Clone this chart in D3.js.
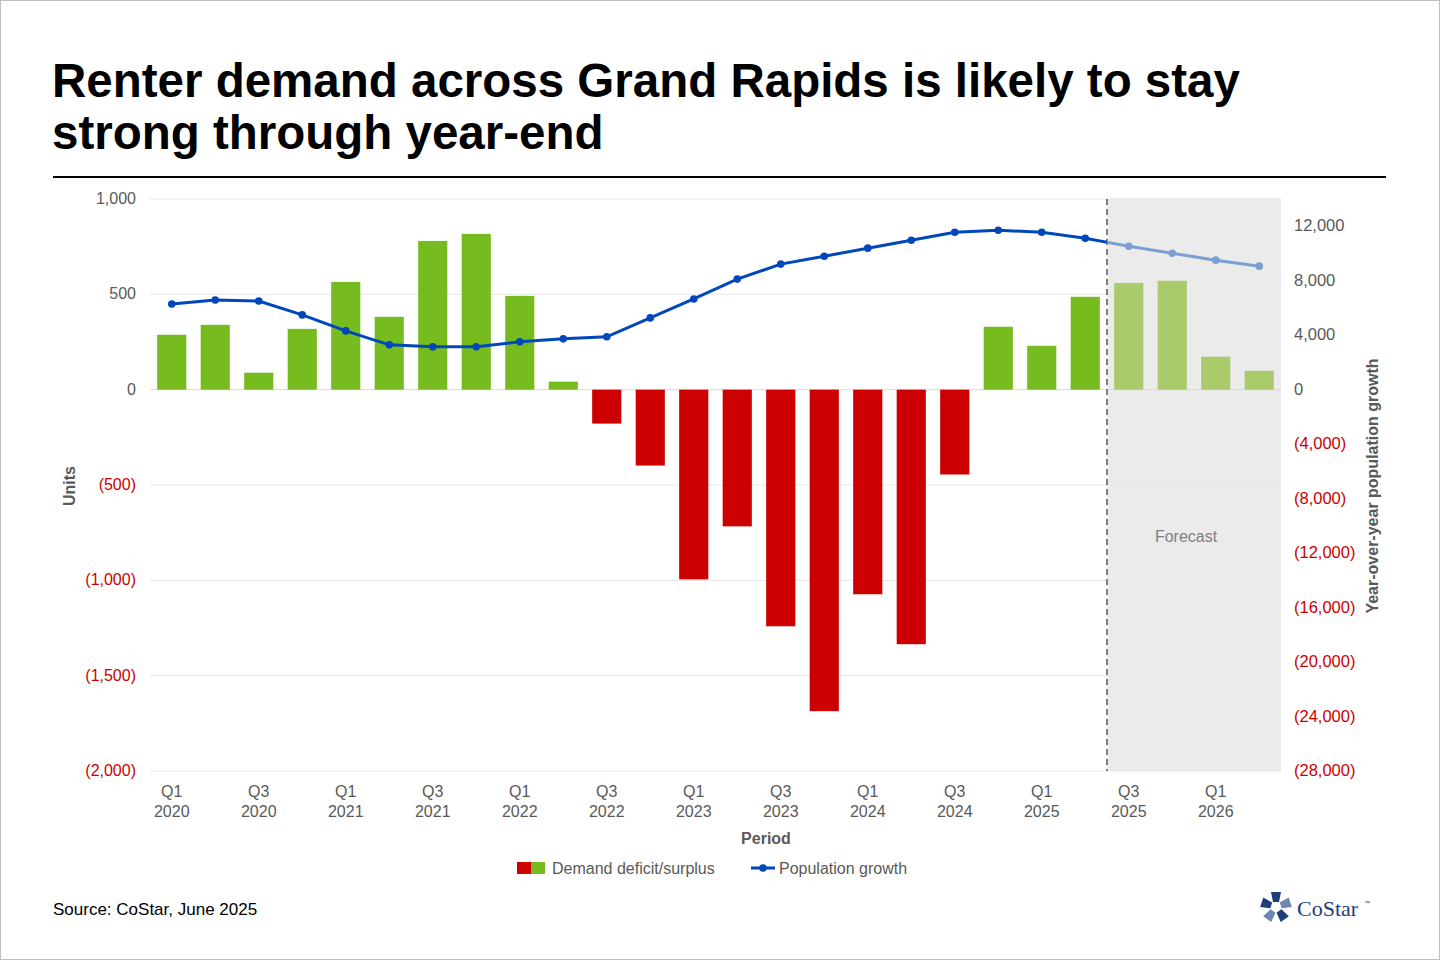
<!DOCTYPE html>
<html><head><meta charset="utf-8">
<script src="https://cdn.jsdelivr.net/npm/d3@7"></script>
<style>
body{margin:0;background:#fff;font-family:"Liberation Sans",Arial,sans-serif;}
</style></head>
<body><div id="chart"></div>
<script>
// data
const periods = ["Q1 2020","Q2 2020","Q3 2020","Q4 2020","Q1 2021","Q2 2021","Q3 2021","Q4 2021",
  "Q1 2022","Q2 2022","Q3 2022","Q4 2022","Q1 2023","Q2 2023","Q3 2023","Q4 2023",
  "Q1 2024","Q2 2024","Q3 2024","Q4 2024","Q1 2025","Q2 2025","Q3 2025","Q4 2025","Q1 2026","Q2 2026"];
const demand = [288,340,89,319,565,382,780,817,492,42,-178,-398,-995,-717,-1241,-1686,
  -1073,-1335,-445,330,230,487,560,571,173,99];
const population = [6290,6585,6510,5490,4315,3290,3145,3145,3510,3730,3880,5270,6660,8120,9220,9800,
  10390,10970,11560,11700,11560,11120,10530,10020,9510,9070];
const forecastStart = 22; // index of first forecast quarter
const leftTicks = [-2000,-1500,-1000,-500,0,500,1000];
const rightTicks = [-28000,-24000,-20000,-16000,-12000,-8000,-4000,0,4000,8000,12000];

const W = 1440, H = 960;
let margin = {top: 199, left: 150, right: 159, bottom: 189},
    x0 = margin.left, x1 = W - margin.right, y0 = margin.top, y1 = H - margin.bottom;

const fmt = v => v < 0 ? "(" + d3.format(",")(-v) + ")" : d3.format(",")(v);

const svg = d3.select("#chart").append("svg").attr("width", W).attr("height", H);
svg.append("rect").attr("x",0.5).attr("y",0.5).attr("width",W-1).attr("height",H-1)
  .attr("fill","#fff").attr("stroke","#bfbfbf");

// title
svg.append("text").attr("x",52).attr("y",97).attr("font-size",47.5).attr("font-weight","bold").attr("fill","#000")
  .text("Renter demand across Grand Rapids is likely to stay");
svg.append("text").attr("x",52).attr("y",149).attr("font-size",47.5).attr("font-weight","bold").attr("fill","#000")
  .text("strong through year-end");
svg.append("line").attr("x1",53).attr("x2",1386).attr("y1",177).attr("y2",177).attr("stroke","#000").attr("stroke-width",2);

const x = d3.scaleBand().domain(periods).range([x0, x1]).paddingInner(0.33).paddingOuter(0.165);
const y = d3.scaleLinear().domain([-2000,1000]).range([y1, y0]);
// right axis: 0 aligned with left 0
const zeroY = y(0);
const yRight = d3.scaleLinear().domain([-28000, 0]).range([y1, zeroY]);

// forecast shade
const fx = x(periods[forecastStart]) - x.step() * x.paddingInner() / 2;
svg.append("rect").attr("x",fx).attr("y",y0).attr("width",x1 - fx).attr("height",y1 - y0).attr("fill","#ebebeb");

// gridlines
svg.append("g").selectAll("line").data(leftTicks).join("line")
  .attr("x1",x0).attr("x2",x1).attr("y1",d=>y(d)).attr("y2",d=>y(d))
  .attr("stroke",d=>d===0?"#d9d9d9":"#e6e6e6");

svg.append("line").attr("x1",fx).attr("x2",fx).attr("y1",y0).attr("y2",y1)
  .attr("stroke","#595959").attr("stroke-width",1.5).attr("stroke-dasharray","6,4");
svg.append("text").attr("x",1186).attr("y",542).attr("text-anchor","middle")
  .attr("font-size",16).attr("fill","#7f7f7f").text("Forecast");

// bars
svg.append("g").selectAll("rect").data(demand).join("rect")
  .attr("x",(d,i)=>x(periods[i])).attr("width",x.bandwidth())
  .attr("y",d=>y(Math.max(0,d))).attr("height",d=>Math.abs(y(d)-y(0)))
  .attr("fill",(d,i)=> d<0 ? "#cc0000" : (i>=forecastStart ? "#a9cb6c" : "#77bc1f"));

// line
const cx = i => x(periods[i]) + x.bandwidth()/2;
const line = d3.line().x((d,i)=>cx(i)).y(d=>yRight(d));
const defs = svg.append("defs");
defs.append("clipPath").attr("id","cA").append("rect").attr("x",0).attr("y",0).attr("width",fx).attr("height",H);
defs.append("clipPath").attr("id","cB").append("rect").attr("x",fx).attr("y",0).attr("width",W-fx).attr("height",H);
svg.append("path").datum(population).attr("d",line).attr("fill","none").attr("stroke","#0047bb").attr("stroke-width",3).attr("clip-path","url(#cA)");
svg.append("path").datum(population).attr("d",line).attr("fill","none").attr("stroke","#7b9fd0").attr("stroke-width",3).attr("clip-path","url(#cB)");
svg.append("g").selectAll("circle").data(population).join("circle")
  .attr("cx",(d,i)=>cx(i)).attr("cy",d=>yRight(d)).attr("r",3.8)
  .attr("fill",(d,i)=> i>=forecastStart ? "#7b9fd0" : "#0047bb");

// left axis labels
svg.append("g").selectAll("text").data(leftTicks).join("text")
  .attr("x",136).attr("y",d=>y(d)+5).attr("text-anchor","end").attr("font-size",16)
  .attr("fill",d=>d<0?"#cc0000":"#595959").text(fmt);
// right axis labels
svg.append("g").selectAll("text").data(rightTicks).join("text")
  .attr("x",1294).attr("y",d=>yRight(d)+5).attr("font-size",16.5)
  .attr("fill",d=>d<0?"#cc0000":"#595959").text(fmt);

// x labels
svg.append("g").selectAll("text").data(periods.filter((p,i)=>i%2===0)).join("text")
  .attr("x",d=>x(d)+x.bandwidth()/2).attr("y",797).attr("text-anchor","middle")
  .attr("font-size",16).attr("fill","#595959")
  .call(t=>{
    t.append("tspan").attr("x",d=>x(d)+x.bandwidth()/2).text(d=>d.split(" ")[0]);
    t.append("tspan").attr("x",d=>x(d)+x.bandwidth()/2).attr("dy",20).text(d=>d.split(" ")[1]);
  });

// axis titles
svg.append("text").attr("x",766).attr("y",844).attr("text-anchor","middle").attr("font-size",16)
  .attr("font-weight","bold").attr("fill","#595959").text("Period");
svg.append("text").attr("transform","translate(75,486) rotate(-90)").attr("text-anchor","middle")
  .attr("font-size",16).attr("font-weight","bold").attr("fill","#595959").text("Units");
svg.append("text").attr("transform","translate(1378,486) rotate(-90)").attr("text-anchor","middle")
  .attr("font-size",16).attr("font-weight","bold").attr("fill","#595959").text("Year-over-year population growth");

// legend
svg.append("rect").attr("x",517).attr("y",862).attr("width",14).attr("height",12).attr("fill","#cc0000");
svg.append("rect").attr("x",531).attr("y",862).attr("width",14).attr("height",12).attr("fill","#77bc1f");
svg.append("text").attr("x",552).attr("y",874).attr("font-size",16).attr("fill","#595959").text("Demand deficit/surplus");
svg.append("line").attr("x1",751).attr("x2",775).attr("y1",868).attr("y2",868).attr("stroke","#0047bb").attr("stroke-width",3);
svg.append("circle").attr("cx",763).attr("cy",868).attr("r",3.8).attr("fill","#0047bb");
svg.append("text").attr("x",779).attr("y",874).attr("font-size",16).attr("fill","#595959").text("Population growth");

// source
svg.append("text").attr("x",53).attr("y",915).attr("font-size",17).attr("fill","#000").text("Source: CoStar, June 2025");

// logo
const lg = svg.append("g").attr("transform","translate(1276,907)");
d3.range(5).forEach(i=>{
  lg.append("path").attr("d","M-5,-15 L5,-15 L3,-5 L-3,-5 Z")
    .attr("fill", i%2 ? "#6f86b5" : "#1f3d7a").attr("transform",`rotate(${i*72})`);
});
svg.append("text").attr("x",1297).attr("y",916).attr("font-size",22).attr("font-family","Liberation Serif,serif")
  .attr("fill","#1f3d7a").text("CoStar");
svg.append("text").attr("x",1364).attr("y",905).attr("font-size",6).attr("fill","#1f3d7a").text("™");
</script></body></html>
